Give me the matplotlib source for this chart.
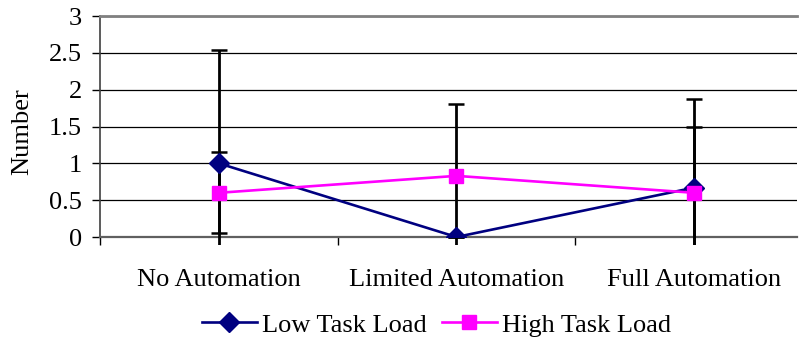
import matplotlib
matplotlib.use("Agg")
from matplotlib import pyplot as plt
from matplotlib.patches import Rectangle

categorias = ["No Automation", "Limited Automation", "Full Automation"]
bajo = [1.0, 0.0, 0.67]
bajo_err = [1.54, 0.0, 1.21]
alto = [0.6, 0.83, 0.6]
alto_err = [0.55, 0.98, 0.9]
ticks_y = [0, 0.5, 1, 1.5, 2, 2.5, 3]

plt.rcParams["font.family"] = ["Liberation Serif", "DejaVu Serif"]

fig = plt.figure(figsize=(8.04, 3.45), dpi=100)
ax = fig.add_axes([100/804, 1-237/345, 697/804, 221/345])

x = list(range(len(categorias)))

# recorte un poco por debajo del eje, como en la hoja de calculo
clip = Rectangle((0, -0.035), 1, 1.07, transform=ax.transAxes, fill=False, visible=False)
ax.add_patch(clip)

for vals, errs in ((bajo, bajo_err), (alto, alto_err)):
    eb = ax.errorbar(x, vals, yerr=errs, fmt="none", ecolor="black",
                     elinewidth=2, capsize=6, capthick=1.8, zorder=3)
    for art in list(eb.lines[1]) + list(eb.lines[2]):
        art.set_clip_path(clip)

ax.plot(x, bajo, color="#000080", lw=1.9, marker="D", markersize=10,
        label="Low Task Load", zorder=4)
ax.plot(x, alto, color="#FF00FF", lw=1.9, marker="s", markersize=10.5,
        label="High Task Load", zorder=5)

ax.set_xlim(-0.5, 2.433)
ax.set_ylim(0, 3)
ax.set_yticks(ticks_y)
ax.set_yticklabels(["0", "0.5", "1", "1.5", "2", "2.5", "3"])
ax.set_xticks(x)
ax.set_xticklabels(categorias)
ax.set_xticks([-0.5, 0.5, 1.5], minor=True)
ax.tick_params(axis="x", which="major", length=0, pad=23, labelsize=19)
ax.tick_params(axis="x", which="minor", direction="out", length=6, width=1)
ax.tick_params(axis="y", direction="out", length=6, width=1, pad=7, labelsize=19)

ax.yaxis.grid(True, color="black", lw=0.9)
ax.set_axisbelow(True)

ax.spines["right"].set_visible(False)
ax.spines["top"].set_color("#808080")
ax.spines["top"].set_linewidth(2)
ax.spines["bottom"].set_color("#606060")
ax.spines["bottom"].set_linewidth(1.6)
ax.spines["left"].set_color("#404040")
ax.spines["left"].set_linewidth(1.2)

ax.set_ylabel("Number", fontsize=19)
ax.yaxis.set_label_coords(-0.096, 0.475)

fig.legend(loc="center", bbox_to_anchor=(0.543, 0.058), ncol=2, frameon=False,
           fontsize=19, handlelength=2.1, handletextpad=0.2, columnspacing=0.55)

fig.savefig("out.png", dpi=100)
